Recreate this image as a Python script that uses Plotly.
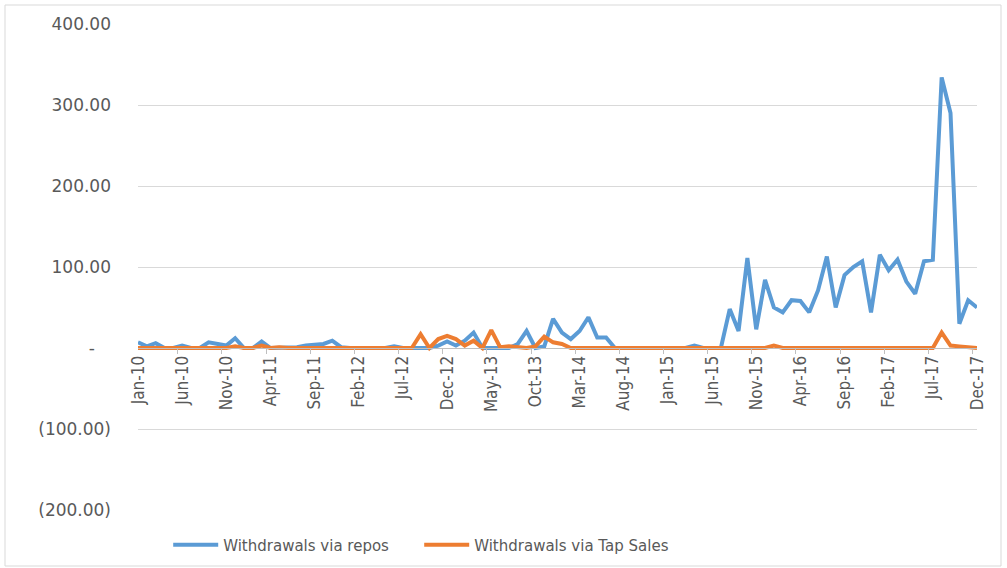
import plotly.graph_objects as go

years = ["10", "11", "12", "13", "14", "15", "16", "17"]
month_names = ["Jan", "Feb", "Mar", "Apr", "May", "Jun",
               "Jul", "Aug", "Sep", "Oct", "Nov", "Dec"]
months = [f"{m}-{y}" for y in years for m in month_names]

repos = [
    7, 2, 6, 0, 0, 3, 0, 0, 7, 5, 3, 12,          # 2010
    0, 0, 8, 0, 0, 0, 1, 3, 4, 5, 9, 1,           # 2011
    0, 0, 0, 0, 0, 2, 0, 0, 0, 0, 3, 8,           # 2012
    3, 9, 19, 0, 0, 0, 0, 5, 21, 0, 2, 36,        # 2013
    19, 11, 21, 38, 13, 13, 0, 0, 0, 0, 0, 0,     # 2014
    0, 0, 0, 3, 0, 0, 0, 48, 21, 111, 23, 84,     # 2015
    50, 44, 59, 58, 44, 71, 113, 50, 90, 100, 107, 44,   # 2016
    115, 96, 109, 82, 67, 107, 109, 334, 290, 30, 59, 50, # 2017
]

tap_sales = [
    0, 0, 0, 0, 0, 0, 0, 0, 0, 0, 0, 2,           # 2010
    0, 0, 3, 0, 1, 0, 0, 0, 0, 0, 0, 0,           # 2011
    0, 0, 1, 0, 0, 0, 0, 0, 17, 0, 11, 15,        # 2012
    11, 3, 9, 0, 22, 1, 2, 1, 0, 2, 14, 7,        # 2013
    5, 0, 0, 0, 0, 1, 0, 0, 0, 0, 0, 0,           # 2014
    0, 0, 0, 0, 0, 0, 0, 0, 0, 0, 0, 0,           # 2015
    3, 0, 0, 0, 0, 0, 0, 0, 0, 0, 0, 0,           # 2016
    0, 0, 0, 0, 0, 0, 0, 19, 3, 2, 1, 0,          # 2017
]

x_tick_labels = months[::5]
y_tick_vals = [-200, -100, 0, 100, 200, 300, 400]
y_tick_text = ["(200.00)", "(100.00)", "-\u00a0\u00a0\u00a0", "100.00", "200.00", "300.00", "400.00"]

fig = go.Figure()
fig.add_trace(go.Scatter(
    x=months, y=repos, mode="lines", name="Withdrawals via repos",
    line=dict(color="#5B9BD5", width=4),
))
fig.add_trace(go.Scatter(
    x=months, y=tap_sales, mode="lines", name="Withdrawals via Tap Sales",
    line=dict(color="#ED7D31", width=4),
))

fig.update_layout(
    width=1007, height=568,
    margin=dict(l=138, r=30, t=24, b=58, autoexpand=False),
    paper_bgcolor="white", plot_bgcolor="white",
    showlegend=True,
    legend=dict(
        orientation="h", x=0.036, y=-0.072, xanchor="left", yanchor="middle",
        font=dict(family="DejaVu Sans", size=15, color="#595959"),
        itemwidth=45, entrywidth=191, entrywidthmode="pixels",
        bgcolor="rgba(0,0,0,0)",
    ),
    xaxis=dict(
        type="category", range=[0, 95],
        tickmode="array", tickvals=x_tick_labels, ticktext=x_tick_labels,
        tickangle=-90, anchor="free", position=1/3,
        showgrid=False, showline=True, linecolor="#BFBFBF", linewidth=1,
        ticks="outside", ticklen=5, tickcolor="#BFBFBF", tickson="boundaries",
        tickfont=dict(family="Liberation Sans Narrow, DejaVu Sans Condensed, sans-serif",
                      size=17, color="#595959"),
        zeroline=False, automargin=False,
    ),
    yaxis=dict(
        range=[-200, 400], tickmode="array", tickvals=y_tick_vals, ticktext=y_tick_text,
        showgrid=True, gridcolor="#D9D9D9", gridwidth=1,
        zeroline=False, showline=False, ticks="",
        ticklabelstandoff=26,
        tickfont=dict(family="DejaVu Sans", size=17, color="#595959"),
        automargin=False,
    ),
    shapes=[dict(
        type="rect", xref="paper", yref="paper",
        x0=-0.15852, x1=1.02861, y0=-0.11523, y1=1.03909,
        line=dict(color="#D9D9D9", width=1), fillcolor="rgba(0,0,0,0)", layer="below",
    )],
)

fig.write_html("out.html")
